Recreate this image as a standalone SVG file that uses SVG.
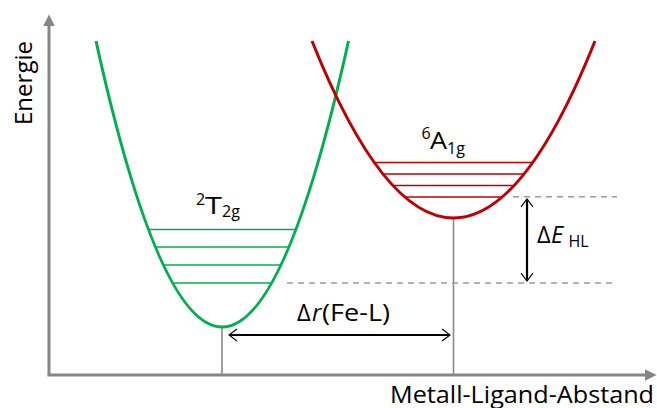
<svg xmlns="http://www.w3.org/2000/svg" width="657" height="408" viewBox="0 0 657 408">
<style>
text{font-family:"Open Sans","Noto Sans","Liberation Sans",sans-serif;fill:#000}
.ax{stroke:#868686;stroke-width:3;fill:none}
.drop{stroke:#8a8a8a;stroke-width:1.6;fill:none}
.dash{stroke:#9a9a9a;stroke-width:1.6;stroke-dasharray:6,5;fill:none}
.g{stroke:#00B050;fill:none}
.r{stroke:#C00000;fill:none}
.arr{stroke:#000;stroke-width:2.2;fill:none}
</style>
<defs>
<marker id="axh" viewBox="0 0 10 10" refX="2" refY="5" markerWidth="4" markerHeight="4" orient="auto">
<path d="M0,0 L10,5 L0,10 z" fill="#868686"/>
</marker>
<marker id="oh" viewBox="0 0 10 14" refX="9" refY="7" markerWidth="4.5" markerHeight="6.3" markerUnits="strokeWidth" orient="auto-start-reverse">
<path d="M1,1 L9,7 L1,13" fill="none" stroke="#000" stroke-width="1.1"/>
</marker>
</defs>
<g id="axes">
<line class="ax" x1="49" y1="375" x2="49" y2="24" marker-end="url(#axh)"/>
<line class="ax" x1="47.5" y1="375" x2="647" y2="375" marker-end="url(#axh)"/>
<text transform="translate(32,125) rotate(-90)" font-size="23" textLength="84" lengthAdjust="spacingAndGlyphs">Energie</text>
<text x="390" y="402.5" font-size="24.5" textLength="264" lengthAdjust="spacingAndGlyphs">Metall-Ligand-Abstand</text>
</g>
<g id="connectors">
<line class="drop" x1="222" y1="327" x2="222" y2="375"/>
<line class="drop" x1="453.5" y1="218" x2="453.5" y2="375"/>
<line class="dash" x1="513" y1="196.7" x2="617" y2="196.7"/>
<line class="dash" x1="287" y1="283" x2="617" y2="283"/>
<line class="arr" x1="527" y1="199" x2="527" y2="281" marker-start="url(#oh)" marker-end="url(#oh)"/>
<line class="arr" x1="229" y1="335" x2="450" y2="335" marker-start="url(#oh)" marker-end="url(#oh)"/>
</g>
<g id="T2g">
<path class="g" stroke-width="3" d="M96,41 Q222,613 348.5,41"/>
<g class="g" stroke-width="1.5">
<line x1="148.5" y1="229.5" x2="295.5" y2="229.5"/>
<line x1="155.5" y1="247" x2="288.5" y2="247"/>
<line x1="163.5" y1="265" x2="280.5" y2="265"/>
<line x1="172.5" y1="283" x2="271.5" y2="283"/>
</g>
<text><tspan x="196" y="205" font-size="16">2</tspan><tspan x="205" y="213.5" font-size="24" textLength="17" lengthAdjust="spacingAndGlyphs">T</tspan><tspan x="222" y="217" font-size="16">2g</tspan></text>
</g>
<g id="A1g">
<path class="r" stroke-width="3" d="M312,41 Q453.5,395 595,41"/>
<g class="r" stroke-width="1.5">
<line x1="374.5" y1="162.5" x2="532.5" y2="162.5"/>
<line x1="383" y1="174" x2="524" y2="174"/>
<line x1="393" y1="185.5" x2="514" y2="185.5"/>
<line x1="405" y1="197" x2="502" y2="197"/>
</g>
<text><tspan x="421.5" y="139" font-size="16">6</tspan><tspan x="430" y="149" font-size="24" textLength="17" lengthAdjust="spacingAndGlyphs">A</tspan><tspan x="447" y="153.5" font-size="16">1g</tspan></text>
</g>
<g id="dEHL">
<text><tspan x="537" y="243" font-size="23.5">Δ</tspan><tspan x="551" y="243" font-size="23.5" font-style="italic">E</tspan><tspan x="568.5" y="246.5" font-size="16">HL</tspan></text>
</g>
<g id="dr">
<text font-size="23.5"><tspan x="297" y="321">Δ</tspan><tspan x="312" y="321" font-style="italic">r</tspan><tspan x="322" y="321" textLength="68" lengthAdjust="spacingAndGlyphs">(Fe-L)</tspan></text>
</g>
</svg>
